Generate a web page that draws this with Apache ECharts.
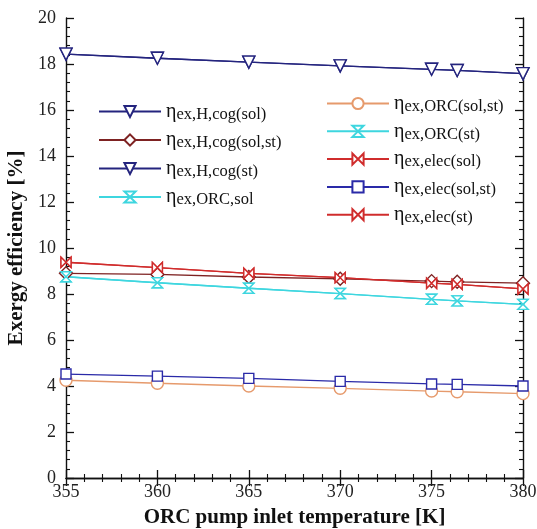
<!DOCTYPE html>
<html>
<head>
<meta charset="utf-8">
<script src="https://cdn.jsdelivr.net/npm/echarts@6/dist/echarts.min.js"></script>
<style>
  html, body { margin: 0; padding: 0; background: #fff; }
  #chart { width: 537px; height: 529px; }
</style>
</head>
<body>
<div id="chart"></div>
<script>
// ORC pump inlet temperature [K]
const temps = [355, 360, 365, 370, 375, 376.4, 380];

// Exergy efficiencies [%]
const hcogSol   = [18.43, 18.25, 18.08, 17.92, 17.77, 17.72, 17.58];
const hcogSolSt = [8.90, 8.85, 8.74, 8.66, 8.56, 8.53, 8.47];
const hcogSt    = [18.43, 18.25, 18.08, 17.92, 17.77, 17.72, 17.58];
const orcSol    = [8.75, 8.49, 8.25, 8.02, 7.77, 7.70, 7.55];
const orcSolSt  = [4.25, 4.12, 4.00, 3.90, 3.78, 3.75, 3.67];
const orcSt     = [8.75, 8.49, 8.25, 8.02, 7.77, 7.70, 7.55];
const elecSol   = [9.38, 9.15, 8.90, 8.71, 8.47, 8.42, 8.22];
const elecSolSt = [4.52, 4.43, 4.33, 4.20, 4.09, 4.07, 4.00];
const elecSt    = [9.38, 9.15, 8.90, 8.71, 8.47, 8.42, 8.22];

const yTicks = [0, 2, 4, 6, 8, 10, 12, 14, 16, 18, 20];
const xTicks = [355, 360, 365, 370, 375, 380];

const FONT = '"Liberation Serif", "DejaVu Serif", serif';
const BOWTIE = 'path://M0,0 L10,10 L10,0 L0,10 Z';
const HOURGLASS = 'path://M0,0 L10,0 L0,10 L10,10 Z';

function mk(name, values, color, symbol, size, rotate) {
  return {
    name: name,
    type: 'line',
    data: temps.map((t, i) => [t, values[i]]),
    symbol: symbol,
    symbolSize: size,
    symbolRotate: rotate || 0,
    showAllSymbol: true,
    clip: false,
    lineStyle: { color: color, width: 1.3 },
    itemStyle: { color: '#ffffff', borderColor: color, borderWidth: 1.4 },
    emphasis: { disabled: true },
    z: 3
  };
}

const series = [
  mk('ηex,H,cog(sol)', hcogSol, '#24247e', 'triangle', 12, 180),
  mk('ηex,H,cog(sol,st)', hcogSolSt, '#7e2222', 'diamond', 13),
  mk('ηex,H,cog(st)', hcogSt, '#24247e', 'triangle', 12, 180),
  mk('ηex,ORC,sol', orcSol, '#3ed6df', HOURGLASS, 10),
  mk('ηex,ORC(sol,st)', orcSolSt, '#e69a6c', 'circle', 12),
  mk('ηex,ORC(st)', orcSt, '#3ed6df', HOURGLASS, 10),
  mk('ηex,elec(sol)', elecSol, '#d02c2c', BOWTIE, 10),
  mk('ηex,elec(sol,st)', elecSolSt, '#2a2aa8', 'rect', 10),
  mk('ηex,elec(st)', elecSt, '#d02c2c', BOWTIE, 10)
];

const legendText = {
  formatter: n => '{e|η}{s|' + n.slice(1) + '}',
  rich: {
    e: { fontFamily: FONT, fontSize: 20, color: '#111', lineHeight: 16 },
    s: { fontFamily: FONT, fontSize: 16.5, color: '#111', lineHeight: 16, padding: [6, 0, 0, 0] }
  }
};

const axisCommon = {
  axisLine: { lineStyle: { color: '#111', width: 1.4 } },
  axisTick: { inside: true, length: 8, lineStyle: { color: '#111', width: 1.3 } },
  minorTick: { show: true, splitNumber: 5, length: 4, lineStyle: { color: '#111', width: 1.1 } },
  splitLine: { show: false }
};

const option = {
  animation: false,
  backgroundColor: '#fff',
  grid: { left: 66, right: 14, top: 18, bottom: 51, containLabel: false, outerBoundsMode: 'none' },
  legend: [
    {
      data: series.slice(0, 4).map(s => s.name),
      orient: 'vertical', left: 93, top: 95,
      itemWidth: 62, itemHeight: 14, itemGap: 5.5,
      selectedMode: false,
      textStyle: legendText, formatter: legendText.formatter
    },
    {
      data: series.slice(4).map(s => s.name),
      orient: 'vertical', left: 321, top: 87,
      itemWidth: 62, itemHeight: 14, itemGap: 4.8,
      selectedMode: false,
      textStyle: legendText, formatter: legendText.formatter
    }
  ],
  xAxis: [
    Object.assign({
      type: 'value', min: xTicks[0], max: xTicks[xTicks.length - 1], interval: 5,
      name: 'ORC pump inlet temperature [K]', nameLocation: 'middle', nameGap: 29,
      nameTextStyle: { fontFamily: FONT, fontSize: 21, fontWeight: 'bold', color: '#111' },
      axisLabel: { fontFamily: FONT, fontSize: 18, color: '#222', margin: 5 }
    }, axisCommon),
    Object.assign({
      type: 'value', position: 'top', min: xTicks[0], max: xTicks[xTicks.length - 1], interval: 5,
      axisLabel: { show: false }
    }, axisCommon)
  ],
  yAxis: [
    Object.assign({
      type: 'value', min: yTicks[0], max: yTicks[yTicks.length - 1], interval: 2,
      name: 'Exergy efficiency [%]', nameLocation: 'middle', nameGap: 27,
      nameTextStyle: { fontFamily: FONT, fontSize: 21, fontWeight: 'bold', color: '#111' },
      axisLabel: { fontFamily: FONT, fontSize: 18, color: '#222', margin: 10 }
    }, axisCommon),
    Object.assign({
      type: 'value', position: 'right', min: yTicks[0], max: yTicks[yTicks.length - 1], interval: 2,
      axisLabel: { show: false }
    }, axisCommon)
  ],
  series: series
};

const chart = echarts.init(document.getElementById('chart'), null, { renderer: 'canvas' });
chart.setOption(option);
</script>
</body>
</html>
